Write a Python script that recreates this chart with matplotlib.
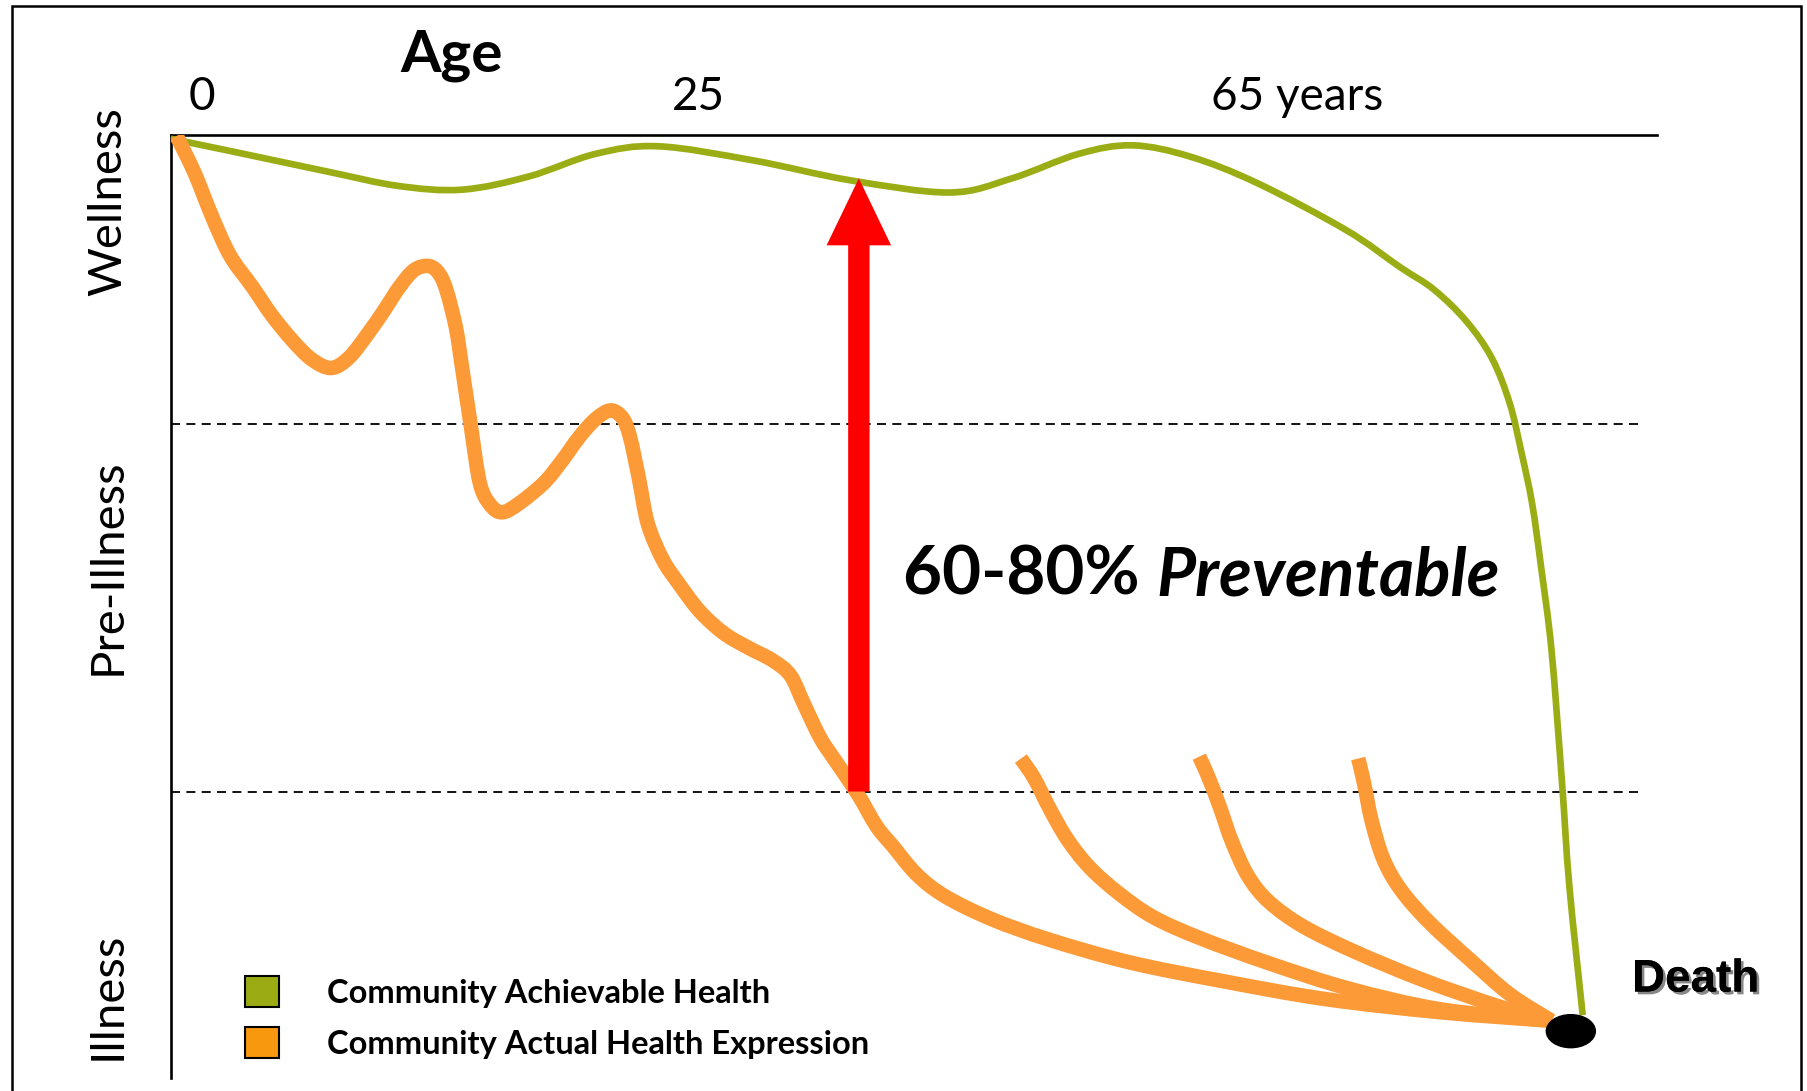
import matplotlib
matplotlib.use('Agg')
import matplotlib.pyplot as plt
import matplotlib.patheffects as pe
from matplotlib.patches import Ellipse, Rectangle, Patch, PathPatch
from matplotlib.path import Path

# diagram values: x = life course (0..100 across the frame), y = health level (0 illness .. 100 wellness)
achievable_x = [0.0, 4.0, 10.6, 15.3, 19.6, 24.1, 28.6, 32.8, 39.2, 45.7, 52.4, 56.6, 61.1, 64.7,
                68.6, 73.1, 79.1, 82.7, 85.0, 87.2, 88.9, 90.1, 90.9, 91.6, 92.2, 92.9, 93.6, 94.1, 95.0]
achievable_y = [99.6, 98.3, 96.1, 94.6, 94.2, 95.6, 98.0, 98.8, 97.3, 95.2, 93.9, 95.4, 98.0, 98.9,
                97.7, 94.9, 89.9, 86.0, 83.6, 80.2, 76.3, 71.5, 66.2, 60.9, 54.2, 45.4, 31.5, 20.4, 6.7]

actual_x = [0.4, 1.6, 2.8, 4.0, 5.5, 6.8, 8.2, 9.5, 10.8, 12.0, 13.3, 14.4, 15.4, 16.4, 17.4, 18.1, 18.6,
            19.2, 19.6, 20.2, 20.8, 21.5, 22.3, 23.4, 25.1, 26.3, 27.5, 28.6, 29.6, 30.4, 30.9, 31.5, 32.1,
            33.1, 34.2, 35.6, 37.2, 38.8, 40.5, 41.7, 42.6, 43.7, 44.7, 46.2, 47.5, 48.6, 50.2, 52.1, 55.2,
            59.1, 64.5, 70.8, 77.7, 85.5, 92.9]
actual_y = [99.9, 96.0, 91.3, 87.2, 83.9, 80.9, 78.2, 76.2, 75.3, 76.4, 79.0, 81.5, 83.9, 85.7, 86.1, 85.2,
            83.3, 79.5, 75.4, 69.1, 63.1, 60.8, 60.0, 60.9, 63.1, 65.4, 68.0, 69.9, 70.8, 70.0, 68.0, 63.6,
            58.8, 55.0, 52.4, 49.5, 47.2, 45.7, 44.3, 42.7, 39.7, 36.1, 33.7, 30.2, 26.7, 24.6, 21.6, 19.3,
            16.9, 14.7, 12.3, 10.3, 8.4, 7.0, 6.1]

branch1_x = [57.2, 58.1, 59.1, 60.3, 61.8, 63.8, 66.1, 69.2, 73.9, 79.3, 85.5, 92.9]
branch1_y = [33.9, 31.8, 28.7, 25.4, 22.4, 19.6, 17.1, 14.9, 12.2, 9.5, 7.3, 6.1]
branch2_x = [69.2, 69.8, 70.6, 71.4, 72.5, 73.9, 76.2, 79.7, 84.3, 89.4, 92.9]
branch2_y = [34.1, 32.0, 28.7, 25.1, 21.4, 18.7, 16.1, 13.4, 10.4, 7.6, 6.1]
branch3_x = [79.9, 80.3, 80.8, 81.6, 82.8, 84.7, 87.4, 90.1, 92.9]
branch3_y = [33.9, 31.2, 27.3, 23.2, 19.9, 16.5, 12.6, 8.9, 6.1]

zone_bounds = [69.4, 30.4]
zone_labels = ['Wellness', 'Pre-Illness', 'Illness']
zone_pos = [92.9, 54.2, 8.8]
age_labels = ['0', '25', '65 years']
age_pos = [2.1, 35.5, 75.8]

gap_x = 46.3
gap_bottom = 30.4
gap_top = 95.4
death_x, death_y = 94.2, 5.0

green = '#9bad14'
orange = '#fd9a38'


def smooth_path(xs, ys):
    # bezier segments through the read points (catmull-rom style handles)
    pts = list(zip(xs, ys))
    verts = [pts[0]]
    codes = [Path.MOVETO]
    n = len(pts)
    for i in range(n - 1):
        p0 = pts[i - 1] if i > 0 else pts[i]
        p1 = pts[i]
        p2 = pts[i + 1]
        p3 = pts[i + 2] if i + 2 < n else pts[i + 1]
        c1 = (p1[0] + (p2[0] - p0[0]) / 6, p1[1] + (p2[1] - p0[1]) / 6)
        c2 = (p2[0] - (p3[0] - p1[0]) / 6, p2[1] - (p3[1] - p1[1]) / 6)
        verts += [c1, c2, p2]
        codes += [Path.CURVE4] * 3
    return Path(verts, codes)


fig = plt.figure(figsize=(18.08, 10.91), dpi=100)
ax = fig.add_axes([0.0944, 0.0116, 0.8221, 0.8647])
ax.set_xlim(0, 100)
ax.set_ylim(0, 100)

ax.spines['right'].set_visible(False)
ax.spines['bottom'].set_visible(False)
ax.spines['top'].set_linewidth(1.9)
ax.spines['left'].set_linewidth(1.9)

ax.xaxis.tick_top()
ax.set_xticks(age_pos, age_labels)
ax.tick_params(axis='x', length=0, pad=12, labelsize=33)
ax.set_yticks(zone_pos, zone_labels)
ax.tick_params(axis='y', length=0, pad=30, labelsize=34, labelrotation=90)
for lab in ax.get_xticklabels() + ax.get_yticklabels():
    lab.set_fontfamily('Lato')
for lab in ax.get_yticklabels():
    lab.set_va('center')

for yb in zone_bounds:
    ax.plot([0, 99.1], [yb, yb], color='black', lw=1.3, dashes=(5, 3.5))

ax.add_patch(PathPatch(smooth_path(achievable_x, achievable_y), fill=False, edgecolor=green, lw=4.8,
                       joinstyle='round', zorder=3))
for bx, by in [(actual_x, actual_y), (branch1_x, branch1_y), (branch2_x, branch2_y), (branch3_x, branch3_y)]:
    ax.add_patch(PathPatch(smooth_path(bx, by), fill=False, edgecolor=orange, lw=10.5,
                           joinstyle='round', capstyle='butt', zorder=4))

ax.arrow(gap_x, gap_bottom, 0, gap_top - gap_bottom, width=1.44, head_width=4.34, head_length=7.1,
         length_includes_head=True, color='#ff0000', lw=0, zorder=5)

ax.add_patch(Ellipse((death_x, death_y), 3.3, 3.5, color='black', zorder=6, clip_on=False))

ax.text(18.9, 106.7, 'Age', fontfamily='Lato', fontweight='bold', fontsize=42, ha='center',
        va='baseline', clip_on=False)
t1 = ax.text(49.3, 51.3, '60-80% ', fontfamily='Lato', fontweight='bold', fontsize=48.5, va='baseline')
ax.annotate('Preventable', xy=(1, 0), xycoords=t1, fontfamily='Lato', fontweight='bold',
            fontstyle='italic', fontsize=48.5, va='bottom', ha='left')
ax.text(102.6, 9.2, 'Death', fontfamily='Liberation Sans', fontweight='bold', fontsize=33, ha='center',
        va='baseline', clip_on=False,
        path_effects=[pe.withSimplePatchShadow(offset=(2, -2), shadow_rgbFace='#555555', alpha=0.7),
                      pe.Normal()])

handles = [Patch(facecolor='#9aab13', edgecolor='black', lw=1.5),
           Patch(facecolor='#f7980f', edgecolor='black', lw=1.5)]
ax.legend(handles, ['Community Achievable Health', 'Community Actual Health Expression'],
          loc='lower left', bbox_to_anchor=(0.05, 0.021), borderaxespad=0, borderpad=0,
          frameon=False, handlelength=1.05, handleheight=1.05, handletextpad=1.45, labelspacing=0.6,
          prop={'family': 'Lato', 'weight': 'bold', 'size': 23.5})

fig.add_artist(Rectangle((0.0064, -0.02), 0.9898, 1.0147, transform=fig.transFigure,
                         fill=False, edgecolor='black', lw=1.8))

fig.savefig('out.png', dpi=100)
